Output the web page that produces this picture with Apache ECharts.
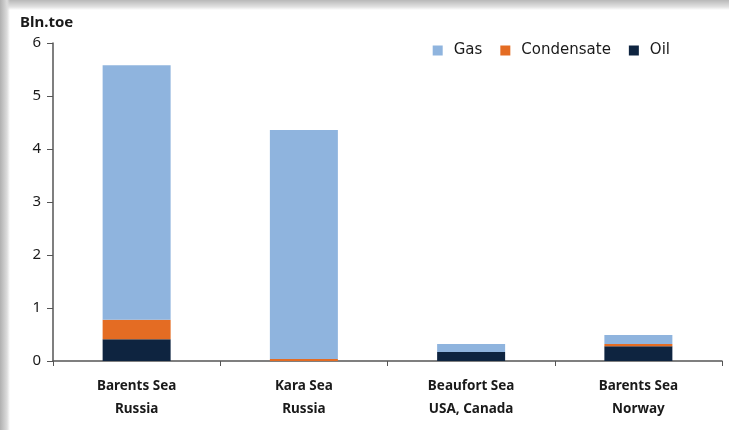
<!DOCTYPE html>
<html>
<head>
<meta charset="utf-8">
<script src="https://cdn.jsdelivr.net/npm/echarts@6/dist/echarts.min.js"></script>
<style>
    html, body { margin: 0; padding: 0; background: #fff; }
    #wrap {
        position: relative; width: 729px; height: 430px; overflow: hidden;
        background:
            linear-gradient(to right, #b0b0b0, #dcdcdc 7px, rgba(255,255,255,0) 10px),
            linear-gradient(to bottom, #b8b8b8, #e2e2e2 7px, rgba(255,255,255,0) 10px),
            #fff;
    }
    #chart { position: absolute; left: 10px; top: 10px; width: 719px; height: 420px; background: #fff; }
</style>
</head>
<body>
<div id="wrap"><div id="chart"></div></div>
<script>
    // regions (two-line labels)
    const regions = ['Barents Sea\nRussia', 'Kara Sea\nRussia', 'Beaufort Sea\nUSA, Canada', 'Barents Sea\nNorway'];
    // Bln.toe
    const oil = [0.41, 0.0, 0.17, 0.28];
    const condensate = [0.37, 0.04, 0.0, 0.04];
    const gas = [4.80, 4.32, 0.15, 0.17];
    const yTicks = [0, 1, 2, 3, 4, 5, 6];

    let chart = echarts.init(document.getElementById('chart'));
    let txt = '#1a1a1a';
    let option = {
        animation: false,
        textStyle: { fontFamily: 'Noto Sans' },
        grid: { left: 43, right: 7, top: 33, bottom: 69 },
        graphic: [{
            type: 'text', left: 10, top: 5,
            style: { text: 'Bln.toe', font: 'bold 15px "Noto Sans"', fill: txt }
        }],
        legend: {
            data: ['Gas', 'Condensate', 'Oil'],
            right: 54, top: 28,
            itemWidth: 10, itemHeight: 10, itemGap: 18,
            icon: 'rect',
            textStyle: { fontSize: 15, color: txt, fontFamily: 'DejaVu Sans', padding: [0, 0, 0, 6] }
        },
        xAxis: {
            type: 'category',
            data: regions,
            axisLine: { lineStyle: { color: '#555', width: 1.5 } },
            axisTick: { show: true, length: 5, lineStyle: { color: '#555' } },
            axisLabel: {
                color: txt, fontSize: 13.5, fontWeight: 'bold', lineHeight: 23,
                margin: 14, fontFamily: 'Noto Sans'
            }
        },
        yAxis: {
            type: 'value',
            min: yTicks[0], max: yTicks[yTicks.length - 1], interval: 1,
            splitLine: { show: false },
            axisLine: { show: true, lineStyle: { color: '#555', width: 1.5 } },
            axisTick: { show: true, length: 6, lineStyle: { color: '#555' } },
            axisLabel: { color: txt, fontSize: 15, margin: 12, fontFamily: 'Noto Sans' }
        },
        series: [
            { name: 'Oil', type: 'bar', stack: 'r', data: oil, barWidth: 68, itemStyle: { color: '#0e2440' } },
            { name: 'Condensate', type: 'bar', stack: 'r', data: condensate, itemStyle: { color: '#e46c23' } },
            { name: 'Gas', type: 'bar', stack: 'r', data: gas, itemStyle: { color: '#8fb4de' } }
        ]
    };
    chart.setOption(option);
</script>
</body>
</html>
